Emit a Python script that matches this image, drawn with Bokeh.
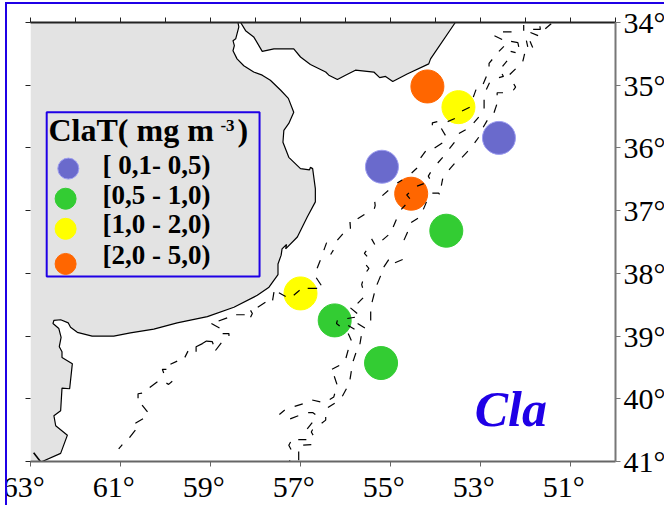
from bokeh.plotting import figure
from bokeh.models import Range1d, BoxAnnotation, FixedTicker, LinearAxis, InlineStyleSheet
from bokeh.core.properties import value
from bokeh.embed import file_html
from bokeh.resources import INLINE

LON_TICKS_LABELLED = [63, 61, 59, 57, 55, 53, 51]
LON_TICKS = [63, 62, 61, 60, 59, 58, 57, 56, 55, 54, 53, 52, 51, 50]
LAT_TICKS = [34, 35, 36, 37, 38, 39, 40, 41]

URUGUAY_LON = [58.33,58.22,58.04,57.85,57.59,57.15,57.0,56.78,56.44,56.37,56.18,56.0,55.78,55.37,55.24,55.11,54.95,54.63,54.15,54.11,53.56]
URUGUAY_LAT = [34.0,34.13,34.23,34.46,34.42,34.42,34.55,34.67,34.79,34.84,34.91,34.84,34.76,34.79,34.88,34.86,34.94,34.82,34.66,34.58,34.0]

ARG_LON = [58.39,58.37,58.44,58.5,58.47,58.5,58.41,58.26,58.04,57.85,57.67,57.44,57.27,57.15,57.26,57.37,57.39,57.26,57.0,56.8,56.78,56.73,56.67,56.67,56.85,57.07,57.33,57.31,57.41,57.43,57.50,57.50,57.70,57.96,58.48,59.07,59.74,60.26,60.78,61.15,61.63,61.96,62.11,62.16,62.33,62.48,62.5,62.37,62.32,62.36,62.3,62.3,62.07,62.13,62.3,62.33,62.48,62.44,62.18,62.33,62.74]
ARG_LAT = [34.0,34.07,34.26,34.29,34.37,34.45,34.58,34.69,34.79,34.84,34.92,35.08,35.21,35.43,35.61,35.72,35.91,36.15,36.33,36.35,36.31,36.33,36.65,36.86,37.10,37.42,37.61,37.54,37.61,37.71,37.85,38.02,38.22,38.35,38.54,38.69,38.79,38.89,38.95,39.0,39.0,38.94,38.86,38.79,38.74,38.75,38.8,38.88,39.02,39.17,39.25,39.34,39.44,39.84,39.83,40.19,40.27,40.43,40.58,40.87,41.0]
ISLET_LON = [62.93, 62.78]
ISLET_LAT = [40.86, 41.0]

ISOBATH_LON = [[52.50,52.31],[52.69,52.52],[52.04,52.04],[51.83,51.67,51.68],[51.89,51.72],[51.56,51.43],[51.98,51.95],[51.90,51.84],[52.32,52.17,52.15],[52.33,52.22],[52.59,52.48],[52.02,52.06],[52.41,52.51],[52.74,52.81,52.81],[52.22,52.35],[52.59,52.49,52.52],[52.87,52.94],[52.80,52.87],[52.26,52.22,52.27],[53.10,53.16],[52.63,52.63,52.50],[52.92,52.92],[52.64,52.70],[53.24,53.41],[53.57,53.73],[53.04,53.15],[52.85,52.94],[53.96,54.07,54.07],[53.87,53.78],[53.33,53.48],[53.04,53.13],[53.58,53.69],[53.85,54.02],[54.22,54.33],[53.28,53.41],[53.84,53.95],[53.58,53.70],[54.41,54.53],[54.11,54.16,54.13],[53.84,53.87],[54.41,54.26],[54.07,53.93,53.91],[54.59,54.64,54.57],[54.74,54.85],[55.05,55.18],[54.2,54.27],[54.67,54.76],[54.39,54.54],[54.87,54.94],[54.62,54.70],[55.35,55.34,55.36],[55.58,55.73],[55.90,55.89],[56.06,56.18],[55.05,55.18],[55.42,55.35],[56.42,56.48],[56.27,56.33],[54.73,54.90],[55.54,55.58,55.52],[55.04,55.15],[56.56,56.63],[55.54,55.48,55.53],[55.22,55.30],[56.65,56.54],[55.62,55.64,55.62],[56.84,56.63],[55.36,55.41],[57.02,57.15],[55.61,55.73],[55.89,55.74],[55.44,55.44],[55.96,55.79],[56.18,56.20,56.13],[55.94,55.80],[55.73,55.57],[55.65,55.68],[55.94,55.87],[55.94,55.99],[55.77,55.83],[56.14,56.30],[56.25,56.19],[55.87,55.90],[55.98,56.07],[56.74,56.56],[56.24,56.26,56.35],[56.95,57.13],[57.35,57.47],[56.24,56.39],[57.05,57.23],[56.83,56.73,56.67],[56.44,56.44,56.53],[56.74,56.85],[56.73,56.76,56.72],[57.05,56.87],[56.94,56.76],[57.22,57.26,57.21],[57.04,57.04],[57.24,57.24],[58.11,58.07,58.11],[58.43,58.24],[58.63,58.82],[58.98,58.80],[58.73,58.59,58.59],[58.76,58.89],[59.32,59.32,59.18,59.09,58.96,58.94],[59.50,59.57],[59.74,59.89],[59.98,60.07,60.04],[59.98,59.93,59.85],[60.18,60.35],[60.52,60.61,60.61],[60.52,60.40],[60.50,60.67],[60.67,60.80],[60.96,61.04],[57.59,57.62],[57.48,57.33],[57.78,57.95]]
ISOBATH_LAT = [[34.15,34.15],[34.21,34.27],[34.04,34.13],[34.11,34.11,34.06],[34.16,34.21],[34.10,34.02],[34.29,34.39],[34.30,34.40],[34.30,34.32,34.39],[34.46,34.48],[34.46,34.38],[34.50,34.62],[34.61,34.70],[34.59,34.65,34.70],[34.74,34.83],[34.88,34.86,34.82],[34.86,34.98],[34.96,35.07],[34.98,35.03,35.08],[35.07,35.19],[35.16,35.12,35.12],[35.23,35.37],[35.31,35.44],[35.35,35.41],[35.53,35.58],[35.51,35.60],[35.56,35.67],[35.58,35.60,35.64],[35.69,35.80],[35.71,35.77],[35.83,35.92],[35.91,36.01],[35.92,36.0],[36.05,36.16],[36.05,36.15],[36.15,36.24],[36.25,36.35],[36.32,36.40],[36.39,36.45,36.49],[36.49,36.60],[36.61,36.57],[36.72,36.72,36.74],[36.72,36.75,36.81],[36.51,36.56],[36.68,36.76],[36.86,36.98],[36.91,36.98],[37.12,37.19],[37.14,37.26],[37.34,37.47],[36.86,36.92,36.97],[37.06,37.13],[37.18,37.29],[37.37,37.47],[37.39,37.47],[37.45,37.54],[37.51,37.63],[37.63,37.70],[37.78,37.83],[37.64,37.68,37.73],[37.78,37.90],[37.79,37.92],[37.87,37.92,37.97],[38.04,38.18],[38.07,38.19],[38.13,38.18,38.23],[38.24,38.24],[38.32,38.46],[38.27,38.35],[38.39,38.48],[38.55,38.64],[38.61,38.75],[38.72,38.70],[38.75,38.80,38.84],[38.83,38.89],[38.80,38.87],[39.0,39.13],[38.96,39.07],[39.22,39.35],[39.27,39.40],[39.47,39.53],[39.64,39.77],[39.56,39.69],[39.84,39.96],[40.02,40.05],[39.92,39.97,40.01],[40.08,40.12],[40.18,40.25],[40.07,40.14],[40.27,40.32],[40.22,40.22,40.25],[40.29,40.34,40.39],[40.38,40.48],[40.49,40.53,40.58],[40.65,40.65],[40.74,40.73],[40.69,40.74,40.81],[40.84,40.98],[40.98,41.0],[38.59,38.64,38.70],[38.66,38.66],[38.71,38.76],[38.80,38.87],[38.96,38.96,39.0],[39.11,39.23],[39.25,39.17,39.12,39.08,39.09,39.13],[39.24,39.34],[39.40,39.45],[39.53,39.53,39.59],[39.75,39.77,39.72],[39.73,39.82],[39.91,39.92,39.99],[40.10,40.21],[40.32,40.39],[40.50,40.62],[40.73,40.80],[38.30,38.43],[38.31,38.37],[38.46,38.54]]

STATION_LON = [54.18, 53.49, 52.59, 55.19, 54.54, 53.76, 57.0, 56.24, 55.21]
STATION_LAT = [35.02, 35.35, 35.84, 36.30, 36.73, 37.32, 38.32, 38.75, 39.43]
STATION_CLASS = [3, 2, 0, 0, 3, 1, 2, 1, 1]

CLASS_COLORS = ["#6A6ACC", "#33CC33", "#FFFF00", "#FF6600"]
CLASS_EDGES = ["#9C9CF0", "#33CC33", "#FFFF00", "#FF6600"]
CLASS_LABELS = ["[ 0,1- 0,5)", "[0,5 - 1,0)", "[1,0 - 2,0)", "[2,0 - 5,0)"]
KEY_LON = [62.16, 62.22, 62.22, 62.22]
KEY_LAT = [36.33, 36.81, 37.29, 37.85]
LABEL_LON = [61.4, 61.4, 61.4, 61.4]
LABEL_LAT = [36.27, 36.75, 37.22, 37.71]

BLUE = "#1F00E6"
LAND = "#E3E3E3"
SERIF = "Liberation Serif"

page_frame = InlineStyleSheet(css=f"""
:host::before {{
  content: ""; position: absolute; left: 5px; top: 2px; right: 0; bottom: 0;
  border-left: 2px solid {BLUE}; border-top: 2px solid {BLUE};
  pointer-events: none; z-index: 20;
}}
:host::after {{
  content: ""; position: absolute; left: 0; top: 0; width: 5px; bottom: 0;
  background: white; pointer-events: none; z-index: 20;
}}
""")

p = figure(frame_width=585, frame_height=439, x_range=Range1d(63, 50), y_range=Range1d(41, 34),
           output_backend="svg", toolbar_location=None, x_axis_location=None, y_axis_location=None,
           min_border_left=30, min_border_right=49, min_border_top=22, min_border_bottom=44,
           background_fill_color="white", border_fill_color="white", outline_line_color=None,
           stylesheets=[page_frame])
p.margin = (0, 0, 0, 0)
p.grid.visible = False

def make_axis(ticks, overrides, color, width):
    ax = LinearAxis(ticker=FixedTicker(ticks=ticks), major_label_overrides=overrides,
                    axis_line_color=color, axis_line_width=width,
                    major_tick_line_color=color, major_tick_line_width=1,
                    major_tick_out=5, major_tick_in=0, minor_tick_line_color=None,
                    major_label_text_font=SERIF, major_label_text_font_size="30px",
                    major_label_text_color="black", major_label_standoff=3)
    return ax

bottom = make_axis(LON_TICKS_LABELLED, {v: f"{v}°\u00a0\u2009" for v in LON_TICKS_LABELLED}, "#666666", 2)
p.add_layout(bottom, "below")
right = make_axis(LAT_TICKS, {v: f"{v}°" for v in LAT_TICKS}, "#777777", 2)
right.major_label_orientation = "horizontal"
p.add_layout(right, "right")
top = make_axis(LON_TICKS, {v: "" for v in LON_TICKS}, "#222222", 2)
p.add_layout(top, "above")
left = make_axis(LAT_TICKS, {v: "" for v in LAT_TICKS}, None, 1)
left.major_tick_line_color = "#222222"
p.add_layout(left, "left")

p.patch([63] + ARG_LON + [63], [34] + ARG_LAT + [41], fill_color=LAND, line_color=None)
p.patch(URUGUAY_LON, URUGUAY_LAT, fill_color=LAND, line_color=None)
p.line(ARG_LON, ARG_LAT, line_color="black", line_width=1.2)
p.line(URUGUAY_LON, URUGUAY_LAT, line_color="black", line_width=1.2)
p.line(ISLET_LON, ISLET_LAT, line_color="black", line_width=1.6)

p.scatter(STATION_LON, STATION_LAT, size=33, marker="circle",
          fill_color=[CLASS_COLORS[c] for c in STATION_CLASS],
          line_color=[CLASS_EDGES[c] for c in STATION_CLASS], line_width=1)
p.multi_line(ISOBATH_LON, ISOBATH_LAT, line_color="black", line_width=1.2)

p.add_layout(BoxAnnotation(left=62.64, right=57.91, top=35.43, bottom=38.05,
                           fill_alpha=0, line_color=BLUE, line_alpha=1, line_width=2))
p.text([62.6], [35.71], text=["ClaT( mg m"], text_font=value(SERIF), text_font_style="bold",
       text_font_size="32px", text_color="black", text_baseline="alphabetic")
p.text([58.78], [35.64], text=["-3"], text_font=value(SERIF), text_font_style="bold",
       text_font_size="17px", text_color="black", text_baseline="alphabetic")
p.text([58.4], [35.71], text=[")"], text_font=value(SERIF), text_font_style="bold",
       text_font_size="32px", text_color="black", text_baseline="alphabetic")
p.scatter(KEY_LON, KEY_LAT, size=21, marker="circle", fill_color=CLASS_COLORS, line_color=CLASS_EDGES)
p.text(LABEL_LON, LABEL_LAT, text=CLASS_LABELS, text_font=value(SERIF), text_font_style="bold",
       text_font_size="27px", text_color="black", text_baseline="alphabetic")
p.text([53.13], [40.16], text=["Cla"], text_font=value(SERIF), text_font_style="bold italic",
       text_font_size="50px", text_color=BLUE, text_baseline="alphabetic")

open("out.html", "w").write(file_html(p, INLINE))
